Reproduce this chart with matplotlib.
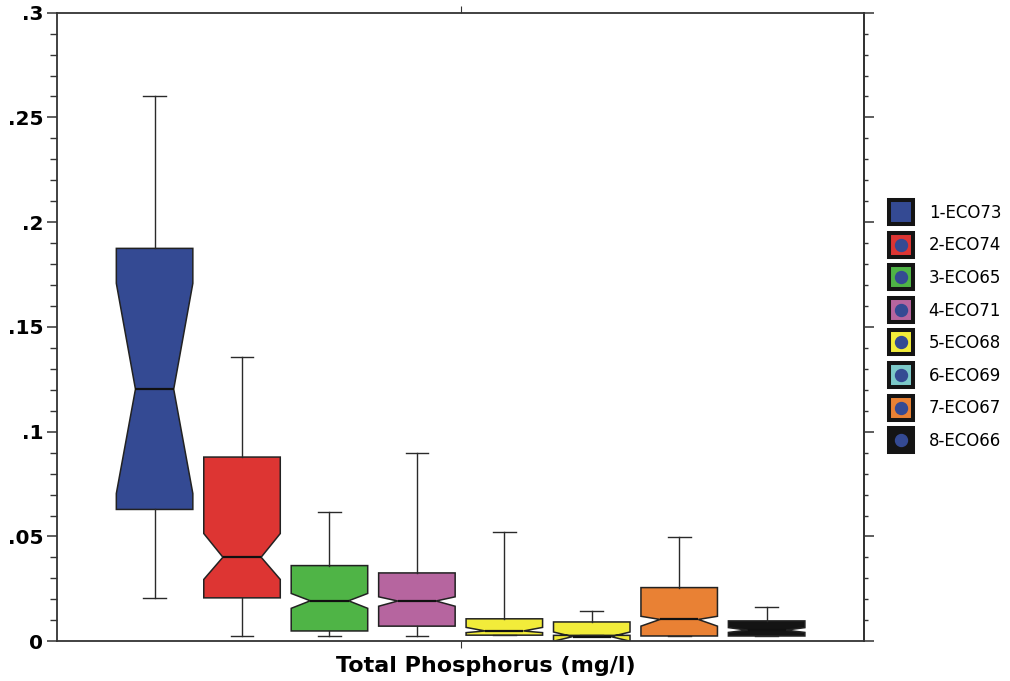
import matplotlib
import matplotlib.pyplot as plt
from matplotlib.lines import Line2D
from matplotlib.ticker import MultipleLocator, FuncFormatter

plt.switch_backend('agg')
plt.rcParams['font.family'] = ['DejaVu Sans']

# box statistics (mg/l)
labels = ['1-ECO73', '2-ECO74', '3-ECO65', '4-ECO71', '5-ECO68', '6-ECO69', '7-ECO67', '8-ECO66']
whishi = [0.2603, 0.1356, 0.0615, 0.0898, 0.0522, 0.0145, 0.0498, 0.0162]
q3     = [0.1875, 0.0879, 0.0361, 0.0326, 0.0107, 0.0092, 0.0256, 0.0097]
cihi   = [0.1708, 0.0514, 0.0228, 0.0212, 0.0066, 0.0044, 0.0119, 0.0065]
med    = [0.1203, 0.0401, 0.0193, 0.0192, 0.0049, 0.0022, 0.0104, 0.0053]
cilo   = [0.0705, 0.0295, 0.0157, 0.0167, 0.0041, 0.0000, 0.0072, 0.0042]
q1     = [0.0629, 0.0207, 0.0049, 0.0072, 0.0029, 0.0028, 0.0025, 0.0025]
whislo = [0.0205, 0.0025, 0.0025, 0.0025, 0.0029, 0.0028, 0.0025, 0.0025]

box_colors = ['#344a93', '#dd3533', '#4fb446', '#b6659f', '#f2ec3a', '#f2ec3a', '#e98134', '#141414']
legend_colors = ['#344a93', '#dd3533', '#4fb446', '#b6659f', '#f2ec3a', '#7cc9c9', '#e98134', '#141414']
dot_color = '#344a93'

stats = []
for i in range(len(labels)):
    stats.append(dict(med=med[i], q1=q1[i], q3=q3[i], whislo=whislo[i], whishi=whishi[i],
                      cilo=cilo[i], cihi=cihi[i], fliers=[], label=labels[i]))

fig = plt.figure(figsize=(10.1, 6.81), dpi=100)
ax = fig.add_axes([0.0567, 0.0584, 0.7987, 0.923])

pos = list(range(1, len(labels) + 1))
bp = ax.bxp(stats, positions=pos, widths=0.875, capwidths=0.26, shownotches=True,
            patch_artist=True, showfliers=False,
            boxprops=dict(edgecolor='#222222', linewidth=1.1),
            whiskerprops=dict(color='#2a2a2a', linewidth=1.0),
            capprops=dict(color='#2a2a2a', linewidth=1.0),
            medianprops=dict(color='#111111', linewidth=1.6))
for patch, c in zip(bp['boxes'], box_colors):
    patch.set_facecolor(c)

ax.set_xlim(-0.113, 9.113)
ax.set_ylim(0, 0.3)

for s in ax.spines.values():
    s.set_color('#333333')
    s.set_linewidth(1.3)

# x axis: single centre tick on top and bottom
ax.set_xticks([4.5])
ax.set_xticklabels([''])
ax.tick_params(axis='x', which='major', direction='out', length=5, top=True, bottom=True, color='#333333')

# left axis labels
ax.yaxis.set_major_locator(MultipleLocator(0.05))
ax.yaxis.set_minor_locator(MultipleLocator(0.01))
ax.yaxis.set_major_formatter(FuncFormatter(lambda v, p: '0' if v == 0 else ('%g' % round(v, 3)).lstrip('0')))
ax.tick_params(axis='y', which='major', direction='out', length=7, width=1.1, pad=3,
               labelsize=14.5, color='#333333')
ax.tick_params(axis='y', which='minor', direction='out', length=5, width=1.0, color='#333333')
for t in ax.get_yticklabels():
    t.set_fontweight('bold')

# right axis ticks
sec = ax.secondary_yaxis('right')
sec.yaxis.set_major_locator(MultipleLocator(0.05))
sec.yaxis.set_minor_locator(MultipleLocator(0.01))
sec.tick_params(axis='y', which='major', direction='out', length=7, width=1.1, labelright=False, color='#333333')
sec.tick_params(axis='y', which='minor', direction='out', length=3, width=1.0, color='#333333')
sec.spines['right'].set_color('#333333')
sec.spines['right'].set_linewidth(1.3)

ax.set_xlabel('Total Phosphorus (mg/l)', fontsize=16, fontweight='bold')
ax.xaxis.set_label_coords(0.531, -0.024)

handles = []
for c in legend_colors:
    sq = Line2D([], [], marker='s', markersize=17.3, markerfacecolor=c, markeredgecolor='#141414',
                markeredgewidth=2.9, linestyle='')
    dot = Line2D([], [], marker='o', markersize=8.6, markerfacecolor=dot_color,
                 markeredgecolor=dot_color, linestyle='')
    handles.append((sq, dot))
ax.legend(handles, labels, loc='center left', bbox_to_anchor=(1.0245, 0.50), frameon=False,
          fontsize=12, labelspacing=0.875, handlelength=1.3, handletextpad=1.0, borderaxespad=0)

plt.savefig('out.png', dpi=100)
